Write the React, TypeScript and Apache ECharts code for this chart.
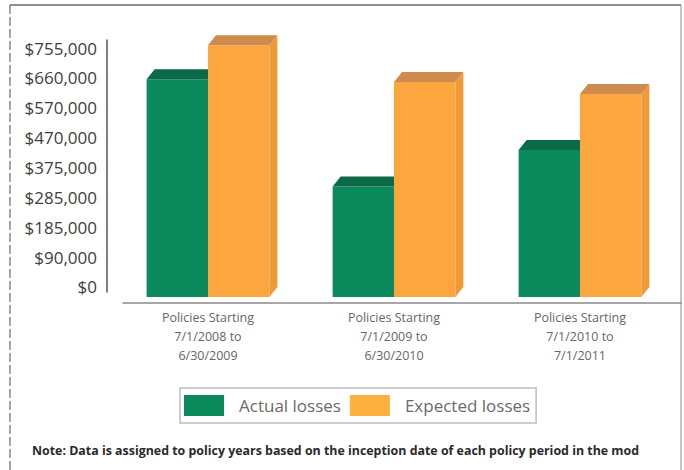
import React, { useEffect, useRef } from 'react';
import * as echarts from 'echarts';

// Policy periods shown along the category axis
const CATEGORIES = [
  'Policies Starting\n7/1/2008 to\n6/30/2009',
  'Policies Starting\n7/1/2009 to\n6/30/2010',
  'Policies Starting\n7/1/2010 to\n7/1/2011',
];
const SERIES_NAMES = ['Actual losses', 'Expected losses'];
const ACTUAL_LOSSES = [688000, 349000, 464000];
const EXPECTED_LOSSES = [795000, 679000, 641000];

// Value-axis ticks and their printed labels
const TICK_VALUES = [0, 94375, 188750, 283125, 377500, 471875, 566250, 660625, 755000];
const TICK_LABELS = ['$0', '$90,000', '$185,000', '$285,000', '$375,000', '$470,000', '$570,000', '$660,000', '$755,000'];

const NOTE = 'Note: Data is assigned to policy years based on the inception date of each policy period in the mod';

const FONT = '"Open Sans", "Noto Sans", sans-serif';

// Face colours of the box-shaped columns
const PALETTE = [
  { front: '#0b8a5e', top: '#0c6a49', side: '#087650', legend: '#0b8a5e' },
  { front: '#fba63f', top: '#cf8a4d', side: '#f09a36', legend: '#fbb040' },
];

// Column geometry: share of a category band per column, and depth offset of the box
const BAR_RATIO = 0.33;
const DEPTH_X = 8;
const DEPTH_Y = 10;

function boxRenderer(params: any, api: any) {
  const cat = api.value(0);
  const val = api.value(1);
  const [cx, yTop] = api.coord([cat, val]);
  const [, yBase] = api.coord([cat, 0]);
  const band = api.size([1, 0])[0];
  const w = band * BAR_RATIO;
  const xL = params.seriesIndex === 0 ? cx - w : cx;
  const xR = xL + w;
  const c = PALETTE[params.seriesIndex];
  const fx = xL - DEPTH_X;
  const fy = yTop + DEPTH_Y;
  return {
    type: 'group',
    children: [
      {
        type: 'polygon',
        shape: { points: [[xR - DEPTH_X, fy], [xR, yTop], [xR, yBase], [xR - DEPTH_X, yBase + DEPTH_Y]] },
        style: { fill: c.side },
      },
      {
        type: 'rect',
        shape: { x: fx, y: fy, width: w, height: yBase - yTop },
        style: { fill: c.front },
      },
      {
        type: 'polygon',
        shape: { points: [[fx, fy], [xL, yTop], [xR, yTop], [xR - DEPTH_X, fy]] },
        style: { fill: c.top },
      },
    ],
  };
}

export default function App() {
  const ref = useRef<HTMLDivElement>(null);

  useEffect(() => {
    if (!ref.current) return;
    const chart = echarts.init(ref.current, undefined, { renderer: 'svg' });
    chart.setOption({
      animation: false,
      backgroundColor: '#ffffff',
      grid: { left: 123, right: 3, top: 40, bottom: 178 },
      xAxis: {
        type: 'category',
        data: CATEGORIES,
        offset: 11,
        axisLine: { show: true, onZero: false, lineStyle: { color: '#8a8a8a', width: 1.5 } },
        axisTick: { show: false },
        axisLabel: {
          margin: 5,
          fontSize: 12.5,
          lineHeight: 19,
          color: '#666666',
          fontFamily: FONT,
          padding: [0, 16, 0, 0],
        },
      },
      yAxis: {
        type: 'value',
        min: -15800,
        max: 780300,
        offset: 16,
        splitLine: { show: false },
        axisTick: { show: false },
        axisLine: { show: true, lineStyle: { color: '#555555', width: 1.5 } },
        axisLabel: {
          customValues: TICK_VALUES,
          margin: 10,
          fontSize: 17,
          color: '#404040',
          fontFamily: FONT,
          formatter: (v: number) => {
            const i = TICK_VALUES.indexOf(v);
            return i >= 0 ? TICK_LABELS[i] : '';
          },
        },
      },
      legend: {
        data: SERIES_NAMES,
        left: 180,
        top: 388,
        icon: 'rect',
        itemWidth: 40,
        itemHeight: 21,
        itemGap: 9,
        padding: [7, 6, 7, 4],
        borderColor: '#bdbdbd',
        borderWidth: 1.5,
        textStyle: { fontSize: 17, color: '#6a6a6a', fontFamily: FONT, padding: [0, 0, 0, 10] },
      },
      series: [ACTUAL_LOSSES, EXPECTED_LOSSES].map((values, s) => ({
        type: 'custom',
        name: SERIES_NAMES[s],
        renderItem: boxRenderer,
        itemStyle: { color: PALETTE[s].legend },
        encode: { x: 0, y: 1 },
        data: values.map((v, i) => [i, v]),
        z: 2 + s,
      })),
      graphic: [
        { type: 'line', shape: { x1: 10, y1: 5, x2: 681, y2: 5 }, style: { stroke: '#6a6a6a', lineWidth: 1.5 } },
        { type: 'line', shape: { x1: 10, y1: 5, x2: 10, y2: 470 }, style: { stroke: '#6a6a6a', lineWidth: 1.2, lineDash: [9, 3] } },
        { type: 'line', shape: { x1: 681, y1: 5, x2: 681, y2: 470 }, style: { stroke: '#8a8a8a', lineWidth: 1 } },
        {
          type: 'text',
          left: 32,
          top: 444,
          style: { text: NOTE, fontSize: 12.4, fontWeight: 'bold', fill: '#2a2a2a', fontFamily: FONT },
        },
      ],
    });
    return () => chart.dispose();
  }, []);

  return <div ref={ref} style={{ position: 'fixed', left: 0, top: 0, width: 684, height: 470 }} />;
}
